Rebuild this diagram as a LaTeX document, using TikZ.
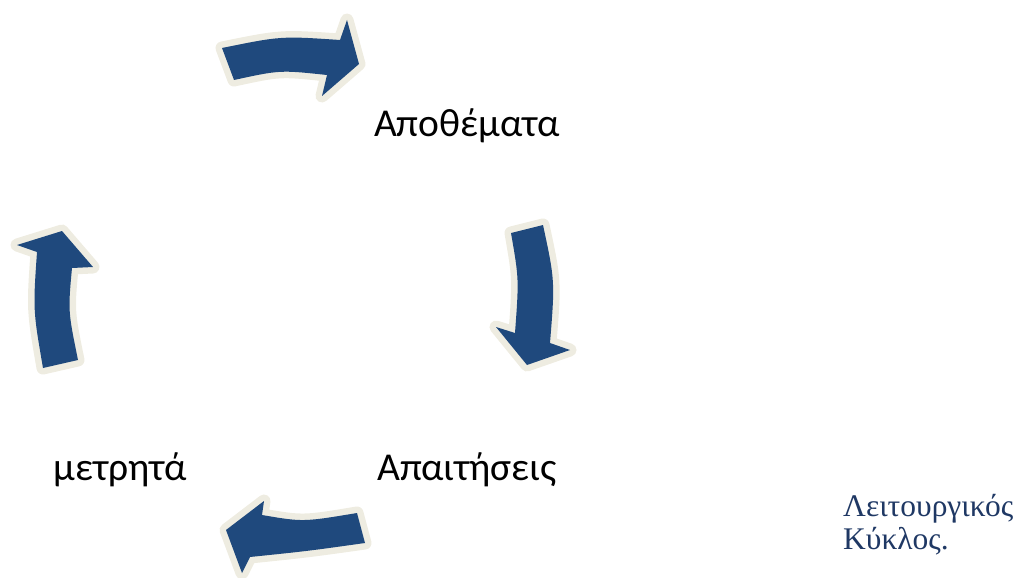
\documentclass[tikz,border=0pt]{standalone}
\usepackage{fontspec}
\setmainfont{Carlito}
\newfontfamily\capfont{Liberation Serif}
\definecolor{arrowblue}{HTML}{1F497D}
\definecolor{cream}{HTML}{EEECE1}
\definecolor{capblue}{HTML}{1F3864}
\tikzset{
  blockarrow/.style={fill=arrowblue, preaction={draw=cream, line width=13pt, line join=round}},
  label/.style={font=\fontsize{39.5}{44}\selectfont, inner sep=0pt},
  caption/.style={font=\capfont\fontsize{31.5}{36}\selectfont, text=capblue, inner sep=0pt, anchor=base west}
}
\begin{document}
\begin{tikzpicture}[x=1pt,y=-1pt]
\useasboundingbox (0,0) rectangle (1018,578);
% top arrow
\path[blockarrow] (222,48) .. controls (281,36) .. (340,40) -- (347,20) -- (359,64) -- (322,96)
  -- (327,75) .. controls (280,70) .. (234,80) -- cycle;
% right arrow
\path[blockarrow] (511,233) -- (543,225) .. controls (555,281) .. (550,343) -- (570,350) -- (527,365)
  -- (496,327) -- (515,333) .. controls (519,279) .. (511,233) -- cycle;
% bottom arrow
\path[blockarrow] (357,513) -- (365,543) .. controls (308,551) .. (250,557) -- (242,573) -- (226,530)
  -- (264,501) -- (262,515) .. controls (303,522) .. (357,513) -- cycle;
% left arrow
\path[blockarrow] (43,368) -- (78,360) .. controls (68,311) .. (72,268) -- (93,267) -- (62,231)
  -- (17,245) -- (37,252) .. controls (33,310) .. (43,368) -- cycle;
% labels
\node[label] (apo) at (467,126) {Αποθέματα};
\node[label] (apa) at (467,470) {Απαιτήσεις};
\node[label] (met) at (120,470) {μετρητά};
\node[caption] (cap1) at (843,516) {Λειτουργικός};
\node[caption] (cap2) at (843,549) {Κύκλος.};
\end{tikzpicture}
\end{document}
